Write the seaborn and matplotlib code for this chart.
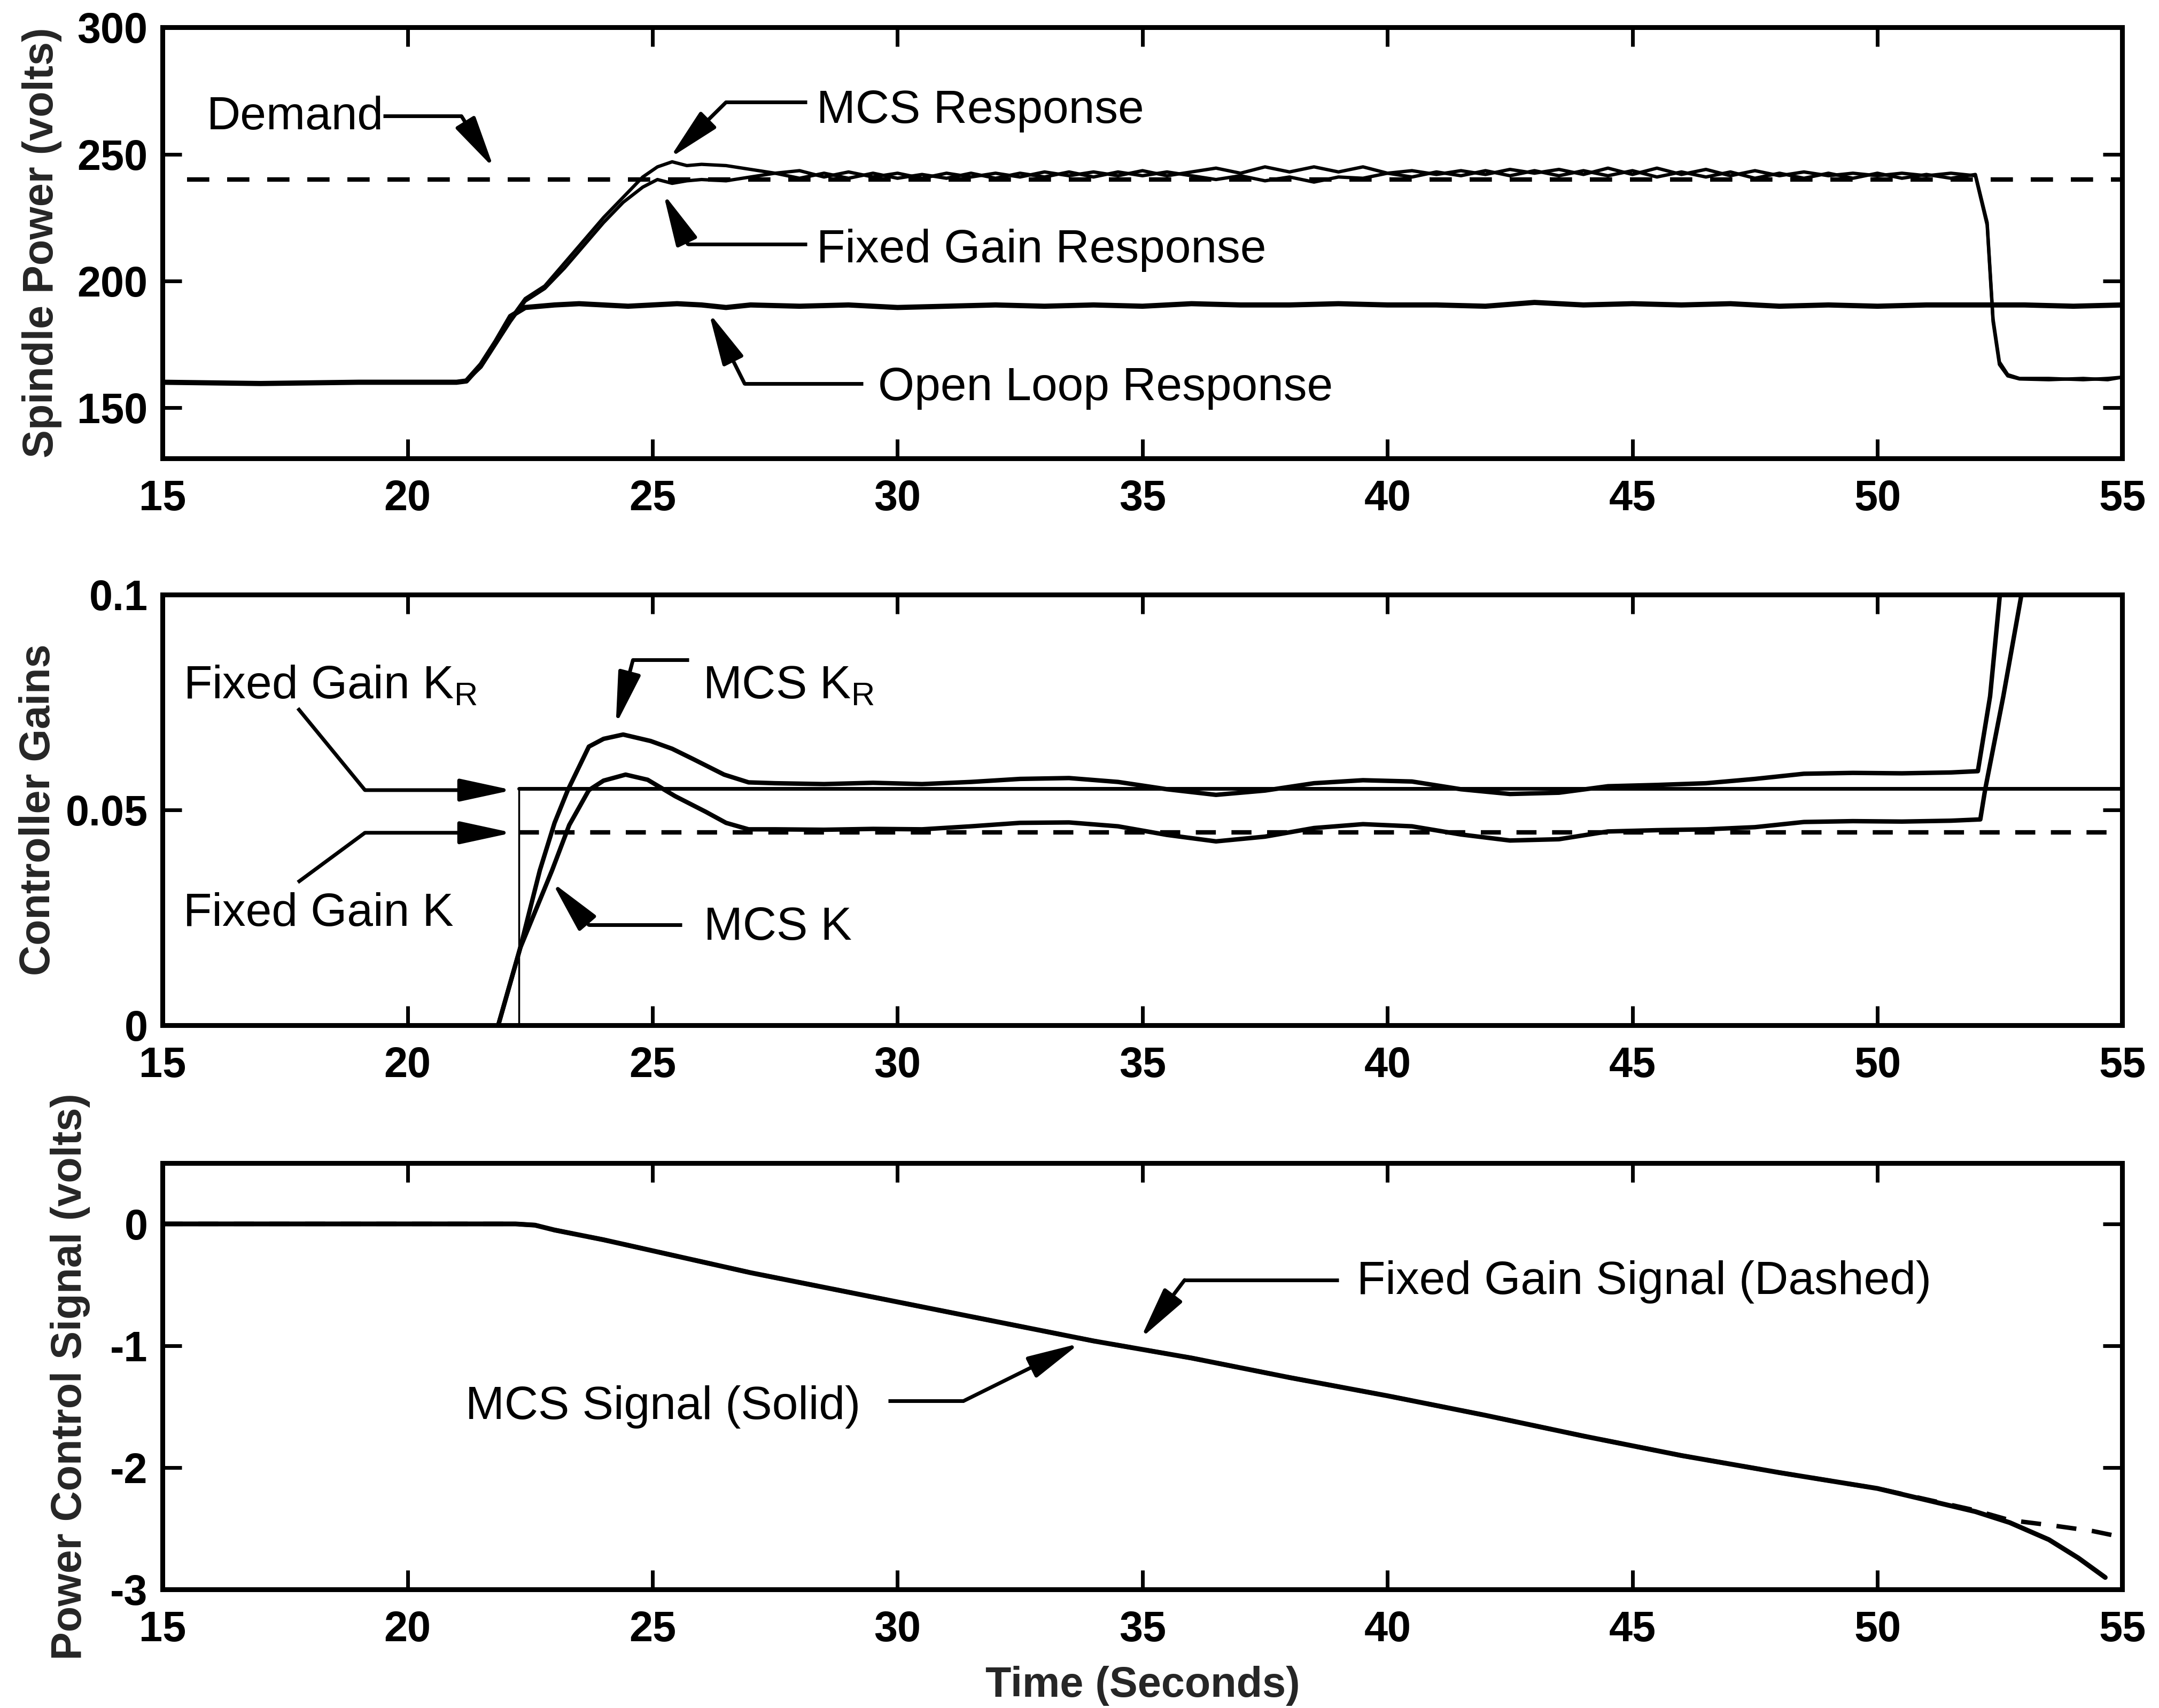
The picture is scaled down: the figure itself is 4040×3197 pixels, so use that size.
import matplotlib
matplotlib.use("Agg")
import matplotlib.pyplot as plt
import seaborn as sns
import pandas as pd

# ------------------------------------------------------------------ data
# Top panel: spindle power (volts)
resp_t = [15, 17, 19, 21, 21.2, 21.5, 21.8, 22.1, 22.4, 22.8, 23.2, 23.6, 24.0, 24.4, 24.8,
          25.1, 25.4, 25.7, 26.0, 26.5,
          27.0, 27.5, 28.0, 28.5, 29.0, 29.5, 30.0, 30.5, 31.0, 31.5, 32.0, 32.5, 33.0, 33.5,
          34.0, 34.5, 35.0, 35.5, 36.0, 36.5, 37.0, 37.5, 38.0, 38.5, 39.0, 39.5, 40.0, 40.5,
          41.0, 41.5, 42.0, 42.5, 43.0, 43.5, 44.0, 44.5, 45.0, 45.5, 46.0, 46.5, 47.0, 47.5,
          48.0, 48.5, 49.0, 49.5, 50.0, 50.5, 51.0, 51.5, 52.0,
          52.24, 52.36, 52.49, 52.66, 52.9, 53.5, 54.2, 54.7, 55.0]
mcs_resp = [160, 159.5, 160, 160, 160.5, 167, 176, 185, 193, 198, 207, 216, 225, 233, 241,
            245, 247, 245.5, 246, 245.5,
            244, 242.5, 243.5, 241, 243, 241, 242.5, 240.5, 242.5, 241,
            242.5, 241, 243, 241.5, 243, 241.5, 243.5, 241.5, 243, 244.5,
            242.5, 245, 243, 245, 243, 245, 242.5, 243.5, 242, 243.5,
            242, 244, 242.5, 244, 242, 244.5, 242, 244.5, 242, 244,
            241.5, 243.5, 241.5, 243, 241.5, 242.5, 241.5, 242.5, 241.5, 242.5,
            241.5,
            222, 184, 167, 162.5, 161.3, 161, 161.5, 161, 162]
fixed_resp = [160, 159.5, 160, 160, 160.5, 166, 175, 184, 192, 197, 205, 214, 223, 231, 237,
              240, 238.5, 239.5, 240, 239.5,
              241, 242.5, 240.5, 242.5, 240.5, 242.5, 240.5, 242, 240.5, 242.5,
              240.5, 242.5, 241, 243, 241, 243, 241.5, 243, 241.5, 240,
              241.5, 239.5, 241, 239, 241, 240.5, 242.5, 241, 243, 241.5,
              243.5, 241.5, 243.5, 241.5, 243.5, 241.5, 243.5, 241, 243, 241,
              243, 240.5, 242.5, 240.5, 242.5, 240.5, 242.5, 240.5, 242, 240.5,
              242,
              223, 185, 168, 163, 161.5, 161.5, 161, 161.5, 162]
open_t = [15, 17, 19, 21, 21.2, 21.5, 21.8, 22.1, 22.4, 23, 23.5, 24, 24.5, 25, 25.5, 26, 26.5,
          27, 28, 29, 30, 31, 32, 33, 34, 35, 36, 37, 38, 39, 40, 41, 42, 43, 44, 45, 46, 47,
          48, 49, 50, 51, 52, 53, 54, 55]
open_resp = [160, 159.5, 160, 160, 160.5, 167, 176, 186, 189.5, 190.5, 191, 190.5, 190, 190.5,
             191, 190.5, 189.5,
             190.5, 190, 190.5, 189.5, 190, 190.5, 190, 190.5, 190, 191, 190.5, 190.5, 191,
             190.5, 190.5, 190, 191.5, 190.5, 191, 190.5, 191, 190, 190.5, 190, 190.5, 190.5,
             190.5, 190, 190.5]
demand_t = [15.5, 55.0]
demand_v = [240, 240]

# Middle panel: controller gains
fixed_kr_t = [22.27, 22.27, 55.0]
fixed_kr_v = [0.0, 0.0550, 0.0550]
fixed_k_t = [22.27, 55.0]
fixed_k_v = [0.0448, 0.0448]
mcs_kr_t = [21.85, 22.3, 22.7, 23.0, 23.27, 23.7, 24.0, 24.4, 24.96, 25.4, 25.83, 26.46, 26.96,
            27.5, 28.5, 29.5, 30.5, 31.5, 32.5, 33.5, 34.5, 35.5, 36.5, 37.5, 38.5, 39.5, 40.5,
            41.5, 42.5, 43.5, 44.5, 45.5, 46.5, 47.5, 48.5, 49.5, 50.5, 51.5, 52.05, 52.3,
            52.5, 52.6]
mcs_kr_v = [0.0, 0.018, 0.036, 0.047, 0.0546, 0.0647, 0.0665, 0.0675, 0.066, 0.0642, 0.0618,
            0.0582, 0.0564, 0.0562, 0.0560, 0.0563, 0.0560, 0.0565, 0.0572, 0.0574, 0.0565,
            0.0548, 0.0535, 0.0545, 0.0562, 0.0569, 0.0566, 0.0548, 0.0537, 0.0540, 0.0555,
            0.0558, 0.0562, 0.0572, 0.0584, 0.0586, 0.0585, 0.0587, 0.0590, 0.0764, 0.1, 0.11]
mcs_k_t = [21.85, 22.3, 22.95, 23.3, 23.7, 24.0, 24.45, 24.9, 25.46, 26.08, 26.5, 26.96, 27.5,
           28.5, 29.5, 30.5, 31.5, 32.5, 33.5, 34.5, 35.5, 36.5, 37.5, 38.5, 39.5, 40.5, 41.5,
           42.5, 43.5, 44.5, 45.5, 46.5, 47.5, 48.5, 49.5, 50.5, 51.5, 52.1, 52.2, 52.57,
           52.94, 53.05]
mcs_k_v = [0.0, 0.018, 0.036, 0.0465, 0.0546, 0.0568, 0.0582, 0.0570, 0.0532, 0.0496, 0.0470,
           0.0455, 0.0455, 0.0454, 0.0456, 0.0455, 0.0462, 0.0470, 0.0471, 0.0462, 0.0442,
           0.0427, 0.0438, 0.0458, 0.0467, 0.0462, 0.0443, 0.0429, 0.0432, 0.0450, 0.0453,
           0.0455, 0.0460, 0.0472, 0.0474, 0.0473, 0.0475, 0.0478, 0.0548, 0.0764, 0.1, 0.108]

# Bottom panel: power control signal (volts)
mcs_sig_t = [15.0, 22.2, 22.6, 23.0, 24.0, 25.0, 26.0, 27.0, 28.5, 30.0, 32.0, 34.0, 36.0,
             38.0, 40.0, 42.0, 44.0, 46.0, 48.0, 50.0, 52.0, 52.7, 53.5, 54.1, 54.65]
mcs_sig_v = [0, 0, -0.01, -0.05, -0.13, -0.22, -0.31, -0.40, -0.52, -0.64, -0.80, -0.96,
             -1.10, -1.26, -1.41, -1.57, -1.74, -1.90, -2.04, -2.17, -2.36, -2.45, -2.59,
             -2.74, -2.90]
fixed_sig_t = [15.0, 22.2, 22.6, 23.0, 24.0, 25.0, 26.0, 27.0, 28.5, 30.0, 32.0, 34.0, 36.0,
               38.0, 40.0, 42.0, 44.0, 46.0, 48.0, 50.0, 52.0, 52.7, 53.6, 54.4, 55.0]
fixed_sig_v = [0, 0, -0.01, -0.05, -0.13, -0.22, -0.31, -0.40, -0.52, -0.64, -0.80, -0.96,
               -1.10, -1.26, -1.41, -1.57, -1.74, -1.90, -2.04, -2.17, -2.35, -2.43, -2.475,
               -2.52, -2.57]

x_ticks = [15, 20, 25, 30, 35, 40, 45, 50, 55]

# ------------------------------------------------------------------ style
sns.set_theme(style="ticks")
plt.rcParams["font.family"] = ["Liberation Sans", "DejaVu Sans"]
plt.rcParams["axes.unicode_minus"] = False
plt.rcParams["mathtext.fontset"] = "custom"
plt.rcParams["mathtext.rm"] = "Liberation Sans"
plt.rcParams["mathtext.it"] = "Liberation Sans"

fig = plt.figure(figsize=(40.41, 31.97), dpi=100)
L, W = 0.0753, 0.9075
ax1 = fig.add_axes([L, 0.7317, W, 0.2522])
ax2 = fig.add_axes([L, 0.3997, W, 0.2522])
ax3 = fig.add_axes([L, 0.0693, W, 0.2498])

TICK_FS = 57
LABEL_FS = 57
ANN_FS = 63


def line(ax, x, y, lw, ls="-"):
    df = pd.DataFrame({"x": x, "y": y})
    sns.lineplot(data=df, x="x", y="y", ax=ax, color="black", linewidth=lw,
                 linestyle=ls, estimator=None, sort=False, legend=False)


def style_axes(ax, ylim, yticks, yticklabels):
    ax.set_xlim(15, 55)
    ax.set_ylim(*ylim)
    ax.set_xticks(x_ticks)
    ax.set_xticklabels([str(v) for v in x_ticks])
    ax.set_yticks(yticks)
    ax.set_yticklabels(yticklabels)
    for s in ax.spines.values():
        s.set_visible(True)
        s.set_linewidth(6.5)
        s.set_color("black")
    ax.tick_params(axis="both", direction="in", length=26, width=5, top=True, right=True,
                   labelsize=TICK_FS, colors="black")
    ax.tick_params(axis="x", pad=28)
    ax.tick_params(axis="y", pad=20)
    for lab in ax.get_xticklabels() + ax.get_yticklabels():
        lab.set_fontweight("bold")
    ax.set_xlabel("")
    ax.set_ylabel("")


def leader(ax, pts, tip, lw=5):
    xs = [p[0] for p in pts]
    ys = [p[1] for p in pts]
    ax.plot(xs, ys, color="black", lw=lw, solid_capstyle="butt")
    ax.annotate("", xy=tip, xytext=pts[-1],
                arrowprops=dict(arrowstyle="-|>,head_length=1.2,head_width=0.26",
                                color="black", lw=lw, mutation_scale=50,
                                shrinkA=0, shrinkB=0))


def label(ax, x, y, s):
    ax.text(x, y, s, fontsize=ANN_FS, ha="left", va="center", color="black")


# ------------------------------------------------------------------ top
line(ax1, demand_t, demand_v, 6, (0, (5.0, 4.0)))
line(ax1, open_t, open_resp, 7)
line(ax1, resp_t, fixed_resp, 4.5)
line(ax1, resp_t, mcs_resp, 4.5)
style_axes(ax1, (130, 300), [150, 200, 250, 300], ["150", "200", "250", "300"])
ax1.set_ylabel("Spindle Power (volts)", fontsize=LABEL_FS, fontweight="bold")
ax1.yaxis.set_label_coords(-0.0513, 0.5)

label(ax1, 15.9, 264.5, "Demand")
leader(ax1, [(19.5, 265), (21.1, 265)], (21.76, 244.5))
label(ax1, 28.35, 267, "MCS Response")
leader(ax1, [(28.15, 270.5), (26.5, 270.5)], (25.35, 248.5))
label(ax1, 28.35, 212, "Fixed Gain Response")
leader(ax1, [(28.15, 214.5), (25.72, 214.5)], (25.22, 234.5))
label(ax1, 29.6, 157.6, "Open Loop Response")
leader(ax1, [(29.3, 159.4), (26.88, 159.4)], (26.15, 187.5))

# ------------------------------------------------------------------ middle
line(ax2, fixed_kr_t[:2], fixed_kr_v[:2], 2.5)
line(ax2, fixed_kr_t[1:], fixed_kr_v[1:], 5)
line(ax2, fixed_k_t, fixed_k_v, 6, (0, (4.5, 3.5)))
line(ax2, mcs_kr_t, mcs_kr_v, 6)
line(ax2, mcs_k_t, mcs_k_v, 6)
style_axes(ax2, (0, 0.1), [0, 0.05, 0.1], ["0", "0.05", "0.1"])
ax2.set_ylabel("Controller Gains", fontsize=LABEL_FS, fontweight="bold")
ax2.yaxis.set_label_coords(-0.053, 0.5)

label(ax2, 15.42, 0.0787, r"Fixed Gain K$_\mathregular{R}$")
leader(ax2, [(17.76, 0.0736), (19.13, 0.0546)], (22.14, 0.0546))
label(ax2, 15.42, 0.0259, "Fixed Gain K")
leader(ax2, [(17.76, 0.0332), (19.13, 0.0447)], (22.14, 0.0447))
label(ax2, 26.02, 0.0787, r"MCS K$_\mathregular{R}$")
leader(ax2, [(25.74, 0.0848), (24.6, 0.0848)], (24.25, 0.0698))
label(ax2, 26.05, 0.0226, "MCS K")
leader(ax2, [(25.6, 0.0233), (23.7, 0.0233)], (22.95, 0.0332))

# ------------------------------------------------------------------ bottom
line(ax3, fixed_sig_t, fixed_sig_v, 6, (0, (4.5, 3.5)))
line(ax3, mcs_sig_t, mcs_sig_v, 6.5)
style_axes(ax3, (-3, 0.5), [-3, -2, -1, 0], ["-3", "-2", "-1", "0"])
ax3.set_ylabel("Power Control Signal (volts)", fontsize=LABEL_FS, fontweight="bold")
ax3.yaxis.set_label_coords(-0.037, 0.5)
ax3.set_xlabel("Time (Seconds)", fontsize=LABEL_FS, fontweight="bold")
ax3.xaxis.set_label_coords(0.5, -0.178)

label(ax3, 39.37, -0.474, "Fixed Gain Signal (Dashed)")
leader(ax3, [(39.0, -0.46), (35.86, -0.46)], (34.96, -0.94))
label(ax3, 21.18, -1.50, "MCS Signal (Solid)")
leader(ax3, [(29.81, -1.45), (31.36, -1.45)], (33.72, -0.98))

fig.savefig("out.png", dpi=100, facecolor="white")
